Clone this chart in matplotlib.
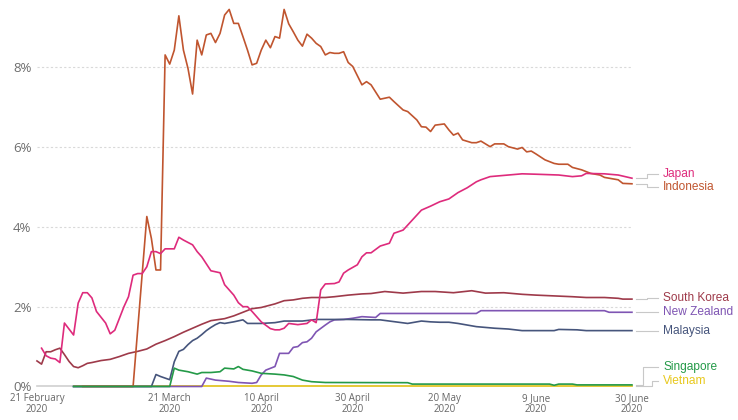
import matplotlib
matplotlib.use("Agg")
import matplotlib.pyplot as plt
import pandas as pd

start = pd.Timestamp("2020-02-21")
end = pd.Timestamp("2020-06-30")

# days since 21 February 2020, case fatality rate in %
japan_days = [1, 2, 3, 4, 5, 6, 8, 9, 10, 11, 12, 13, 15, 16, 17, 19, 20, 21, 22, 23,
              24, 25, 26, 27, 28, 30, 31, 32, 34, 35, 36, 38, 40, 41, 43, 44, 45, 46, 47, 49,
              51, 52, 53, 54, 55, 57, 59, 60, 61, 62, 63, 65, 66, 67, 68, 70, 71, 72, 73, 75,
              77, 78, 80, 82, 84, 86, 88, 90, 92, 94, 96, 97, 99, 101, 103, 106, 109, 114, 117, 119,
              120, 124, 127, 130]
japan_cfr = [0.96, 0.77, 0.71, 0.69, 0.60, 1.59, 1.29, 2.09, 2.35, 2.35, 2.22, 1.88, 1.59, 1.32, 1.41, 2.00, 2.25, 2.79, 2.83, 2.83,
             3.00, 3.38, 3.38, 3.33, 3.45, 3.45, 3.74, 3.67, 3.55, 3.38, 3.25, 2.90, 2.85, 2.55, 2.29, 2.10, 2.00, 2.00, 1.88, 1.62,
             1.45, 1.42, 1.42, 1.46, 1.58, 1.55, 1.58, 1.67, 1.60, 2.42, 2.57, 2.58, 2.62, 2.84, 2.92, 3.05, 3.25, 3.35, 3.35, 3.52,
             3.59, 3.84, 3.92, 4.17, 4.42, 4.52, 4.63, 4.70, 4.86, 4.98, 5.13, 5.18, 5.26, 5.28, 5.30, 5.33, 5.32, 5.30, 5.26, 5.28,
             5.34, 5.33, 5.30, 5.22]

indonesia_days = [10, 21, 24, 25, 26, 27, 28, 29, 30, 31, 32, 33, 34, 35, 36, 37, 38, 39, 40, 41,
                  42, 43, 44, 45, 46, 47, 48, 49, 50, 51, 52, 53, 54, 55, 56, 57, 58, 59, 60, 61,
                  62, 63, 64, 65, 66, 67, 68, 69, 71, 72, 73, 75, 77, 78, 80, 81, 83, 84, 85, 86,
                  87, 89, 90, 91, 92, 93, 95, 96, 97, 99, 100, 102, 103, 105, 106, 107, 108, 109, 111, 113,
                  114, 116, 117, 119, 121, 123, 124, 127, 128, 130]
indonesia_cfr = [0, 0, 4.26, 3.71, 2.92, 2.92, 8.31, 8.08, 8.43, 9.29, 8.43, 7.97, 7.33, 8.68, 8.31, 8.81, 8.85, 8.62, 8.85, 9.31,
                 9.45, 9.10, 9.10, 8.77, 8.43, 8.06, 8.10, 8.43, 8.68, 8.49, 8.77, 8.73, 9.45, 9.09, 8.89, 8.68, 8.53, 8.83, 8.73, 8.60,
                 8.52, 8.31, 8.37, 8.35, 8.35, 8.39, 8.12, 8.02, 7.56, 7.64, 7.56, 7.20, 7.25, 7.14, 6.93, 6.89, 6.68, 6.51, 6.50, 6.39,
                 6.55, 6.58, 6.43, 6.30, 6.35, 6.18, 6.11, 6.11, 6.15, 6.01, 6.08, 6.08, 6.01, 5.95, 5.99, 5.88, 5.90, 5.83, 5.68, 5.59,
                 5.57, 5.57, 5.49, 5.43, 5.34, 5.30, 5.24, 5.18, 5.09, 5.08]

korea_days = [0, 1, 2, 3, 4, 5, 6, 7, 8, 9, 10, 11, 12, 14, 16, 18, 20, 22, 24, 26,
              28, 30, 32, 34, 36, 38, 41, 43, 45, 47, 49, 52, 54, 56, 58, 60, 63, 65, 68, 71,
              73, 76, 80, 84, 87, 91, 95, 98, 102, 106, 109, 113, 117, 120, 124, 127, 128, 130]
korea_cfr = [0.64, 0.56, 0.87, 0.87, 0.92, 0.96, 0.80, 0.63, 0.50, 0.47, 0.52, 0.58, 0.60, 0.65, 0.68, 0.75, 0.83, 0.88, 0.94, 1.06,
             1.15, 1.25, 1.36, 1.46, 1.56, 1.65, 1.70, 1.77, 1.86, 1.95, 1.98, 2.07, 2.15, 2.17, 2.21, 2.23, 2.23, 2.25, 2.29, 2.32,
             2.33, 2.38, 2.34, 2.38, 2.38, 2.35, 2.40, 2.34, 2.35, 2.31, 2.29, 2.27, 2.25, 2.23, 2.23, 2.21, 2.19, 2.19]

nz_days = [8, 36, 37, 39, 42, 44, 47, 48, 49, 50, 52, 53, 55, 56, 57, 58, 59, 60, 61, 63,
           64, 65, 67, 69, 71, 74, 75, 96, 97, 124, 125, 130]
nz_cfr = [0, 0, 0.21, 0.16, 0.13, 0.10, 0.08, 0.10, 0.29, 0.41, 0.50, 0.83, 0.83, 0.98, 1.00, 1.10, 1.12, 1.21, 1.37, 1.54,
          1.62, 1.67, 1.68, 1.71, 1.75, 1.73, 1.83, 1.83, 1.90, 1.90, 1.86, 1.86]

malaysia_days = [8, 25, 26, 27, 29, 30, 31, 32, 33, 34, 35, 36, 37, 38, 39, 40, 41, 43, 45, 46,
                 49, 52, 54, 58, 61, 65, 68, 73, 75, 77, 79, 81, 84, 86, 88, 90, 92, 94, 96, 98,
                 100, 103, 106, 109, 113, 114, 118, 120, 130]
malaysia_cfr = [0, 0, 0.30, 0.25, 0.17, 0.62, 0.88, 0.93, 1.05, 1.15, 1.21, 1.30, 1.40, 1.48, 1.55, 1.60, 1.58, 1.62, 1.67, 1.58,
                1.58, 1.60, 1.64, 1.64, 1.68, 1.68, 1.68, 1.67, 1.67, 1.64, 1.61, 1.58, 1.64, 1.62, 1.61, 1.61, 1.58, 1.54, 1.50, 1.48,
                1.46, 1.44, 1.40, 1.40, 1.40, 1.43, 1.42, 1.40, 1.40]

singapore_days = [8, 29, 30, 31, 33, 35, 36, 38, 40, 41, 43, 44, 45, 47, 49, 52, 54, 56, 58, 60,
                  63, 81, 82, 112, 113, 114, 117, 118, 130]
singapore_cfr = [0, 0, 0.46, 0.41, 0.37, 0.31, 0.35, 0.35, 0.37, 0.46, 0.44, 0.50, 0.43, 0.39, 0.33, 0.31, 0.29, 0.25, 0.16, 0.12,
                 0.10, 0.095, 0.06, 0.06, 0.03, 0.06, 0.06, 0.04, 0.04]

vietnam_days = [8, 130]
vietnam_cfr = [0, 0]

series = [
    ("Vietnam", vietnam_days, vietnam_cfr, "#e8c81c", 0.145, 4.3),
    ("New Zealand", nz_days, nz_cfr, "#7f55b3", 1.87, 3.2),
    ("Malaysia", malaysia_days, malaysia_cfr, "#46557c", 1.40, 3.2),
    ("South Korea", korea_days, korea_cfr, "#9e3a4a", 2.21, 3.2),
    ("Indonesia", indonesia_days, indonesia_cfr, "#c0552f", 4.99, 3.2),
    ("Japan", japan_days, japan_cfr, "#de2b7c", 5.33, 3.2),
    ("Singapore", singapore_days, singapore_cfr, "#249a48", 0.50, 2.5),
]

tick_dates = ["2020-02-21", "2020-03-21", "2020-04-10", "2020-04-30",
              "2020-05-20", "2020-06-09", "2020-06-30"]
tick_labels = ["21 February\n2020", "21 March\n2020", "10 April\n2020", "30 April\n2020",
               "20 May\n2020", "9 June\n2020", "30 June\n2020"]
y_ticks = [0, 2, 4, 6, 8]

fig = plt.figure(figsize=(7.38, 4.20), dpi=100)
ax = fig.add_axes([0.0501, 0.0798, 0.8062, 0.912])

ax.set_xlim(start, end)
ax.set_ylim(0, 9.6)

for y in y_ticks[1:]:
    ax.axhline(y, color="#d9d9d9", lw=0.8, ls=(0, (2, 2)), zorder=0)
ax.axhline(0, color="#cfcfcf", lw=1.2, zorder=0, clip_on=False)

day = pd.Timedelta(days=1)
for i, (name, days, vals, color, label_y, elbow) in enumerate(series):
    x = [start + d * day for d in days]
    ax.plot(x, vals, color=color, lw=1.2, zorder=2 + i, clip_on=False,
            solid_joinstyle="round")
    last_x = x[-1]
    cx = [last_x + 0.9 * day, last_x + elbow * day, last_x + elbow * day, last_x + 5.7 * day]
    cy = [vals[-1], vals[-1], label_y, label_y]
    ax.plot(cx, cy, color="#c8c8c8", lw=0.8, clip_on=False, zorder=1)
    ax.text(last_x + 6.8 * day, label_y, name, color=color, fontsize=8.6,
            family="Liberation Sans", va="center", ha="left")

for s in ax.spines.values():
    s.set_visible(False)

ax.set_yticks(y_ticks)
ax.set_yticklabels([f"{v}%" for v in y_ticks], family="Open Sans", fontsize=9.5, color="#6e6e6e")
ax.set_xticks([pd.Timestamp(t) for t in tick_dates])
ax.set_xticklabels(tick_labels, family="Open Sans", fontsize=7, color="#666666", linespacing=0.9)
ax.tick_params(axis="both", length=0)
ax.tick_params(axis="x", pad=5)
ax.tick_params(axis="y", pad=4)

fig.savefig("out.png", dpi=100)
